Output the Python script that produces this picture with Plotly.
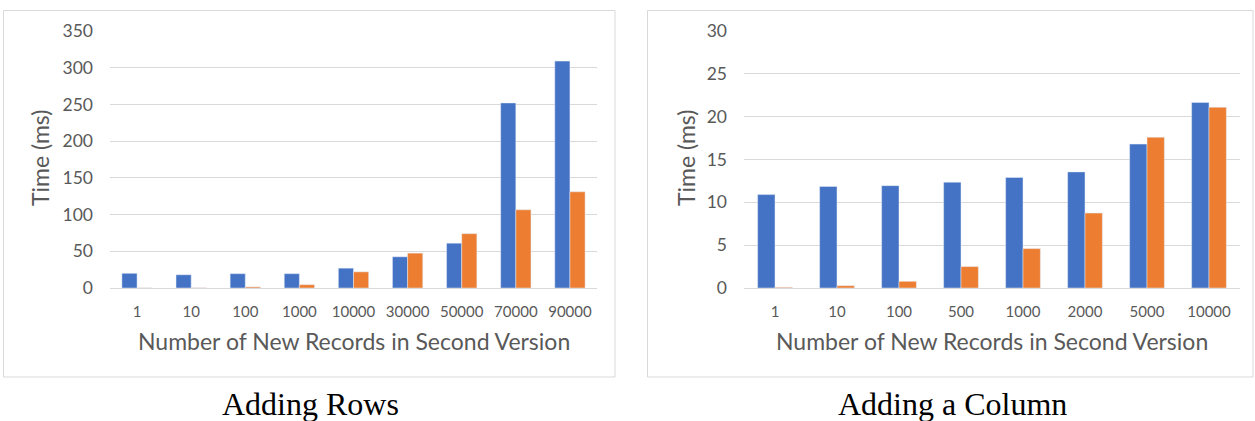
import plotly.graph_objects as go

W, H = 1255, 421

rows_cats = ["1", "10", "100", "1000", "10000", "30000", "50000", "70000", "90000"]
rows_blue = [20, 18, 19.5, 19.5, 27, 42.5, 61, 252, 309]
rows_orange = [0.2, 0.3, 1.5, 4.5, 22, 47.5, 74, 106.5, 131]

col_cats = ["1", "10", "100", "500", "1000", "2000", "5000", "10000"]
col_blue = [10.9, 11.85, 11.95, 12.35, 12.9, 13.55, 16.8, 21.65]
col_orange = [0.08, 0.27, 0.78, 2.5, 4.6, 8.75, 17.6, 21.1]

left_ticks = [0, 50, 100, 150, 200, 250, 300, 350]
right_ticks = [0, 5, 10, 15, 20, 25, 30]

BLUE = "#4472C4"
ORANGE = "#ED7D31"
TXT = "#595959"
GRID = "#D9D9D9"
FONT = "Lato"


def px(x):
    return x / W


def py(y):
    return 1 - y / H


fig = go.Figure()
fig.add_trace(go.Bar(x=rows_cats, y=rows_blue, marker_color=BLUE, xaxis="x", yaxis="y", showlegend=False))
fig.add_trace(go.Bar(x=rows_cats, y=rows_orange, marker_color=ORANGE, xaxis="x", yaxis="y", showlegend=False))
fig.add_trace(go.Bar(x=col_cats, y=col_blue, marker_color=BLUE, xaxis="x2", yaxis="y2", showlegend=False))
fig.add_trace(go.Bar(x=col_cats, y=col_orange, marker_color=ORANGE, xaxis="x2", yaxis="y2", showlegend=False))

ydom = [py(288), py(31)]
common_x = dict(type="category", showgrid=False, showline=True, linecolor=GRID, linewidth=1,
                ticks="", tickfont=dict(family=FONT, size=15, color=TXT), ticklabelstandoff=10,
                fixedrange=True)
common_y = dict(showgrid=True, gridcolor=GRID, gridwidth=1, zeroline=False, showline=False,
                ticks="", tickfont=dict(family=FONT, size=17.5, color=TXT), ticklabelstandoff=16,
                fixedrange=True)

fig.update_layout(
    width=W, height=H,
    margin=dict(l=0, r=0, t=0, b=0, autoexpand=False),
    paper_bgcolor="white", plot_bgcolor="white",
    barmode="group", bargap=0.44, bargroupgap=0,
    xaxis=dict(domain=[px(110), px(597)], anchor="y", **common_x),
    yaxis=dict(domain=ydom, anchor="x", range=[0, 350], tickvals=left_ticks, **common_y),
    xaxis2=dict(domain=[px(744), px(1240)], anchor="y2", **common_x),
    yaxis2=dict(domain=ydom, anchor="x2", range=[0, 30], tickvals=right_ticks, **common_y),
    shapes=[
        dict(type="rect", xref="paper", yref="paper", x0=px(3.5), x1=px(615), y0=py(377), y1=py(10.5),
             line=dict(color=GRID, width=1), fillcolor="rgba(0,0,0,0)", layer="below"),
        dict(type="rect", xref="paper", yref="paper", x0=px(647.5), x1=px(1253), y0=py(377), y1=py(10.5),
             line=dict(color=GRID, width=1), fillcolor="rgba(0,0,0,0)", layer="below"),
    ],
)

ann = []
for cx in (40, 686):
    ann.append(dict(text="Time (ms)", x=px(cx), y=py(158), xref="paper", yref="paper", showarrow=False,
                    textangle=-90, font=dict(family=FONT, size=23, color=TXT), xanchor="center", yanchor="middle"))
for cx in (353.5, 992):
    ann.append(dict(text="Number of New Records in Second Version", x=px(cx), y=py(341), xref="paper", yref="paper",
                    showarrow=False, font=dict(family=FONT, size=23, color=TXT), xanchor="center", yanchor="middle"))
for cx, t in ((310, "Adding Rows"), (952, "Adding a Column")):
    ann.append(dict(text=t, x=px(cx), y=py(404), xref="paper", yref="paper", showarrow=False,
                    font=dict(family="Liberation Serif", size=32, color="#000000"), xanchor="center", yanchor="middle"))
fig.update_layout(annotations=ann)

fig.write_html("out.html", config={"displayModeBar": False},
               post_script="document.body.style.margin='0';document.body.style.padding='0';document.body.style.overflow='hidden';")
